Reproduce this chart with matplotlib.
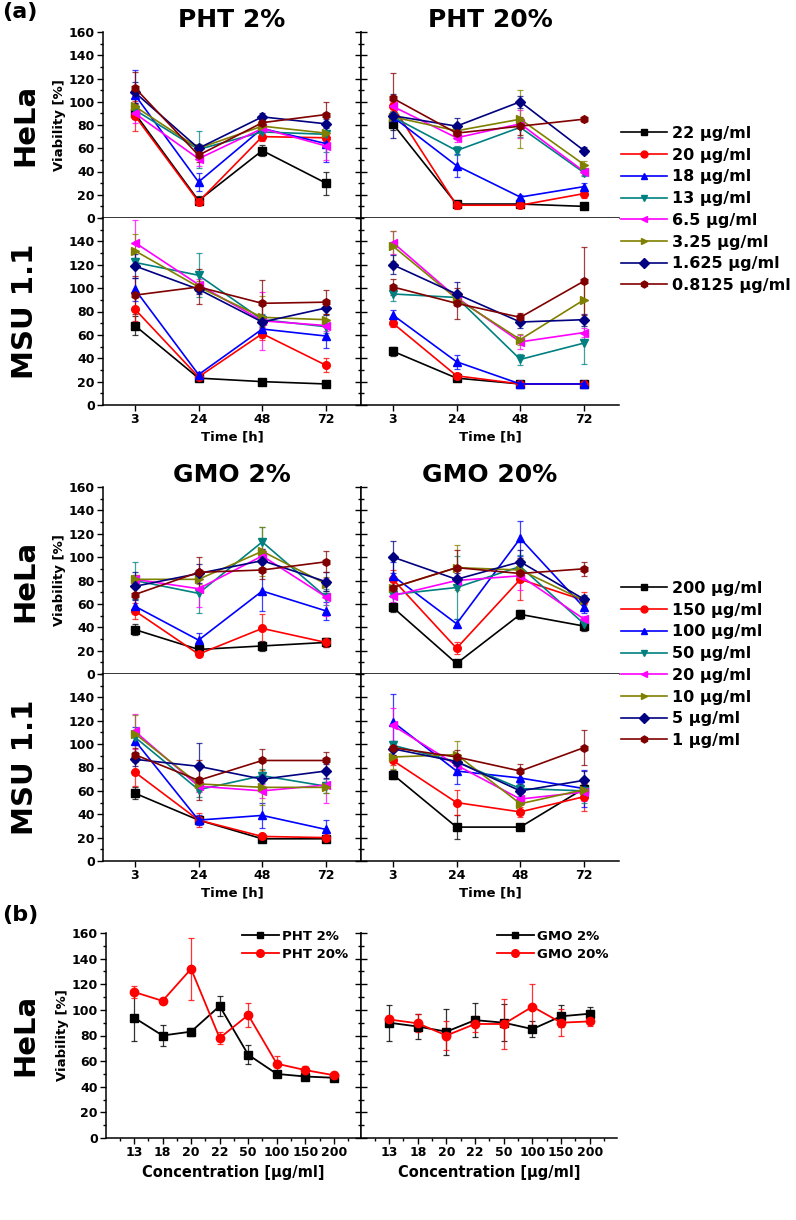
import matplotlib
matplotlib.use('Agg')
import matplotlib.pyplot as plt
from matplotlib.lines import Line2D
from matplotlib.ticker import AutoMinorLocator, MultipleLocator
from matplotlib.colors import to_rgba

plt.rcParams['font.family'] = ['DejaVu Sans']
plt.rcParams['font.weight'] = 'bold'

# ---- data ----
times = ['3', '24', '48', '72']
pht_labels = ['22 µg/ml', '20 µg/ml', '18 µg/ml', '13 µg/ml', '6.5 µg/ml',
              '3.25 µg/ml', '1.625 µg/ml', '0.8125 µg/ml']
gmo_labels = ['200 µg/ml', '150 µg/ml', '100 µg/ml', '50 µg/ml', '20 µg/ml',
              '10 µg/ml', '5 µg/ml', '1 µg/ml']

# PHT 2% HeLa (one row per concentration, columns = time points)
pht2_hela = [[90, 15, 58, 30], [88, 14, 70, 69], [106, 31, 77, 64], [93, 59, 74, 72],
             [90, 51, 77, 62], [96, 60, 79, 73], [108, 60, 87, 81], [112, 54, 82, 89]]
pht2_hela_err = [[4, 4, 5, 10], [13, 2, 4, 4], [21, 8, 3, 16], [6, 16, 3, 15],
                 [8, 6, 4, 12], [8, 4, 5, 6], [9, 3, 3, 4], [14, 6, 5, 11]]
# PHT 20% HeLa
pht20_hela = [[81, 12, 12, 10], [96, 11, 11, 21], [87, 45, 18, 27], [87, 58, 78, 39],
              [96, 69, 81, 40], [87, 75, 85, 46], [88, 79, 100, 58], [103, 73, 79, 85]]
pht20_hela_err = [[5, 3, 2, 1], [5, 3, 2, 4], [4, 10, 2, 3], [4, 4, 8, 3],
                  [4, 4, 12, 3], [5, 3, 25, 3], [19, 7, 5, 3], [22, 5, 8, 2]]
# PHT 2% MSU 1.1
pht2_msu = [[68, 23, 20, 18], [82, 24, 61, 34], [99, 26, 65, 59], [122, 111, 73, 67],
            [139, 103, 72, 68], [132, 101, 75, 73], [119, 99, 71, 83], [94, 101, 87, 88]]
pht2_msu_err = [[8, 1, 1, 1], [10, 2, 5, 6], [10, 2, 5, 10], [4, 19, 5, 5],
                [19, 5, 25, 5], [14, 5, 18, 5], [10, 4, 6, 6], [16, 15, 20, 10]]
# PHT 20% MSU 1.1
pht20_msu = [[46, 23, 18, 18], [70, 25, 18, 18], [77, 37, 18, 18], [95, 92, 39, 53],
             [139, 92, 54, 62], [136, 91, 56, 90], [120, 95, 71, 73], [101, 87, 75, 106]]
pht20_msu_err = [[4, 1, 1, 1], [3, 2, 1, 1], [4, 6, 1, 1], [6, 4, 5, 18],
                 [10, 4, 6, 4], [13, 5, 5, 16], [8, 10, 5, 5], [7, 13, 4, 29]]
# GMO 2% HeLa
gmo2_hela = [[38, 21, 24, 27], [54, 17, 39, 27], [58, 29, 71, 54], [80, 69, 113, 66],
             [81, 73, 101, 66], [81, 81, 105, 77], [75, 86, 97, 79], [68, 87, 89, 96]]
gmo2_hela_err = [[5, 3, 4, 4], [7, 2, 12, 4], [6, 6, 17, 8], [16, 17, 13, 7],
                 [4, 16, 6, 16], [4, 4, 21, 6], [12, 8, 10, 8], [12, 13, 8, 9]]
# GMO 20% HeLa
gmo20_hela = [[57, 9, 51, 41], [81, 22, 81, 63], [84, 43, 116, 57], [68, 74, 92, 43],
              [67, 80, 84, 47], [74, 91, 89, 63], [100, 81, 96, 64], [74, 91, 86, 90]]
gmo20_hela_err = [[4, 2, 4, 4], [8, 5, 18, 7], [12, 4, 15, 5], [8, 27, 10, 3],
                  [5, 4, 12, 3], [6, 19, 10, 4], [14, 5, 10, 4], [8, 15, 6, 6]]
# GMO 2% MSU 1.1
gmo2_msu = [[58, 35, 19, 19], [76, 35, 21, 20], [103, 35, 39, 27], [106, 61, 73, 64],
            [111, 64, 60, 65], [109, 66, 63, 63], [87, 81, 70, 77], [91, 69, 86, 86]]
gmo2_msu_err = [[5, 3, 2, 1], [12, 6, 2, 2], [12, 4, 11, 8], [6, 6, 6, 6],
                [15, 5, 6, 15], [16, 6, 15, 5], [6, 20, 6, 6], [6, 17, 10, 7]]
# GMO 20% MSU 1.1
gmo20_msu = [[74, 29, 29, 62], [86, 50, 42, 55], [119, 77, 71, 62], [99, 85, 62, 60],
             [116, 82, 53, 59], [89, 91, 49, 61], [96, 85, 60, 69], [97, 89, 77, 97]]
gmo20_msu_err = [[4, 10, 2, 4], [4, 11, 4, 12], [24, 11, 4, 16], [4, 4, 6, 10],
                 [15, 5, 4, 8], [10, 12, 5, 8], [5, 6, 6, 8], [6, 6, 6, 15]]

# (b) HeLa vs concentration
conc = ['13', '18', '20', '22', '50', '100', '150', '200']
pht2_b = [94, 80, 83, 103, 65, 50, 48, 47]
pht2_b_err = [18, 8, 3, 8, 7.5, 2, 1.5, 1.5]
pht20_b = [114, 107, 132, 78, 96, 58, 53, 49]
pht20_b_err = [5, 1.5, 24, 4.5, 9.5, 6, 3.5, 1.5]
gmo2_b = [90, 87, 83, 92, 90, 85, 95, 97]
gmo2_b_err = [14, 9.5, 18, 13, 14.5, 6.5, 8.5, 5]
gmo20_b = [92.5, 89.5, 80, 89, 89, 102.5, 90, 91]
gmo20_b_err = [3, 7, 11.5, 6, 19.5, 17.5, 10.5, 3.5]

# ---- styles ----
colors = ['#000000', '#ff0000', '#0000ff', '#008080', '#ff00ff', '#808000', '#000080', '#800000']
markers = ['s', 'o', '^', 'v', '<', '>', 'D', 'h']

W, H = 796, 1220
fig = plt.figure(figsize=(W / 100, H / 100), dpi=100)


def box(x0, x1, y0, y1):
    return fig.add_axes([x0 / W, 1 - y1 / H, (x1 - x0) / W, (y1 - y0) / H])


def draw_series(ax, means, errs):
    x = list(range(len(times)))
    for m, e, c, mk in zip(means, errs, colors, markers):
        ax.errorbar(x, m, yerr=e, color=c, marker=mk, ms=5.5, lw=1.2,
                    ecolor=to_rgba(c, 0.75), elinewidth=0.9, capsize=2, capthick=0.9)


def style_a(ax, col, top):
    ax.set_xlim(-0.5, 3.55)
    ax.set_ylim(0, 160)
    ax.spines['top'].set_visible(False)
    ax.spines['right'].set_visible(col == 0)
    for s in ax.spines.values():
        s.set_linewidth(1.1)
    ax.set_xticks(range(len(times)))
    ax.tick_params(axis='x', direction='out', length=4, width=1, labelsize=9, pad=2)
    if top:
        ax.set_yticks(range(0, 161, 20))
        ax.set_xticklabels([])
    else:
        ax.set_yticks(range(0, 141, 20))
        ax.set_xticklabels(times)
        ax.set_xlabel('Time [h]', fontsize=9.5, fontweight='bold', labelpad=3)
    ax.yaxis.set_minor_locator(MultipleLocator(10))
    if col == 0:
        ax.tick_params(axis='y', which='both', direction='out', left=True, right=False,
                       labelsize=9, pad=2, width=1)
        ax.tick_params(axis='y', which='major', length=4)
        ax.tick_params(axis='y', which='minor', length=2)
        if top:
            ax.set_ylabel('Viability [%]', fontsize=9.5, fontweight='bold', labelpad=2)
    else:
        ax.tick_params(axis='y', which='both', direction='inout', left=True,
                       labelleft=False, width=1)
        ax.tick_params(axis='y', which='major', length=8)
        ax.tick_params(axis='y', which='minor', length=4)


cols = [(103, 361), (361, 619)]
blocks = [
    ((32, 218), (218, 405), [(pht2_hela, pht2_hela_err, pht2_msu, pht2_msu_err),
                             (pht20_hela, pht20_hela_err, pht20_msu, pht20_msu_err)],
     ['PHT 2%', 'PHT 20%'], pht_labels),
    ((487, 674), (674, 861), [(gmo2_hela, gmo2_hela_err, gmo2_msu, gmo2_msu_err),
                              (gmo20_hela, gmo20_hela_err, gmo20_msu, gmo20_msu_err)],
     ['GMO 2%', 'GMO 20%'], gmo_labels),
]

for hela_y, msu_y, sets, titles, labels in blocks:
    for ci, ((x0, x1), (hm, he, mm, me), title) in enumerate(zip(cols, sets, titles)):
        ax_h = box(x0, x1, hela_y[0], hela_y[1])
        draw_series(ax_h, hm, he)
        style_a(ax_h, ci, True)
        ax_h.set_title(title, fontsize=18, fontweight='bold', pad=3)
        ax_m = box(x0, x1, msu_y[0], msu_y[1])
        draw_series(ax_m, mm, me)
        style_a(ax_m, ci, False)
    fig.text(25 / W, 1 - (hela_y[0] + hela_y[1]) / 2 / H, 'HeLa', rotation=90,
             fontsize=21, fontweight='bold', ha='center', va='center')
    fig.text(25 / W, 1 - (msu_y[0] + msu_y[1]) / 2 / H, 'MSU 1.1', rotation=90,
             fontsize=21, fontweight='bold', ha='center', va='center')
    handles = [Line2D([], [], color=c, marker=mk, ms=5, lw=1.2) for c, mk in zip(colors, markers)]
    fig.legend(handles, labels, loc='upper left',
               bbox_to_anchor=(621 / W, 1 - (hela_y[0] + 94) / H),
               frameon=False, fontsize=11.5, handlelength=2.9, handletextpad=0.3,
               labelspacing=0.42, borderpad=0, borderaxespad=0)

fig.text(2 / W, 1 - 12 / H, '(a)', fontsize=16, fontweight='bold', ha='left', va='center')
fig.text(2 / W, 1 - 915 / H, '(b)', fontsize=16, fontweight='bold', ha='left', va='center')

# ---- (b) ----
xb = list(range(len(conc)))
b_sets = [((106, 361), pht2_b, pht2_b_err, pht20_b, pht20_b_err, 'PHT 2%', 'PHT 20%', 242),
          ((361, 617), gmo2_b, gmo2_b_err, gmo20_b, gmo20_b_err, 'GMO 2%', 'GMO 20%', 497)]
for ci, ((x0, x1), m1, e1, m2, e2, l1, l2, lx) in enumerate(b_sets):
    ax = box(x0, x1, 933, 1138)
    ax.errorbar(xb, m1, yerr=e1, color='#000000', marker='s', ms=5.5, lw=1.3,
                ecolor=to_rgba('#000000', 0.8), elinewidth=0.9, capsize=2, capthick=0.9, label=l1)
    ax.errorbar(xb, m2, yerr=e2, color='#ff0000', marker='o', ms=6, lw=1.3,
                ecolor=to_rgba('#ff0000', 0.8), elinewidth=0.9, capsize=2, capthick=0.9, label=l2)
    ax.set_xlim(-0.98, 7.95)
    ax.set_ylim(0, 160)
    ax.spines['top'].set_visible(False)
    ax.spines['right'].set_visible(ci == 0)
    for s in ax.spines.values():
        s.set_linewidth(1.1)
    ax.set_xticks(xb)
    ax.set_xticklabels(conc)
    ax.xaxis.set_minor_locator(AutoMinorLocator(2))
    ax.tick_params(axis='x', which='both', direction='out', width=1, labelsize=9, pad=2)
    ax.tick_params(axis='x', which='major', length=4)
    ax.tick_params(axis='x', which='minor', length=2)
    ax.set_yticks(range(0, 161, 20))
    ax.yaxis.set_minor_locator(MultipleLocator(10))
    ax.set_xlabel('Concentration [µg/ml]', fontsize=10.5, fontweight='bold', labelpad=4)
    if ci == 0:
        ax.tick_params(axis='y', which='both', direction='out', labelsize=9, pad=2, width=1)
        ax.tick_params(axis='y', which='major', length=4)
        ax.tick_params(axis='y', which='minor', length=2)
        ax.set_ylabel('Viability [%]', fontsize=9.5, fontweight='bold', labelpad=2)
    else:
        ax.tick_params(axis='y', which='both', direction='inout', labelleft=False, width=1)
        ax.tick_params(axis='y', which='major', length=8)
        ax.tick_params(axis='y', which='minor', length=4)
    hb = [Line2D([], [], color='#000000', marker='s', ms=5, lw=1.3),
          Line2D([], [], color='#ff0000', marker='o', ms=5.5, lw=1.3)]
    fig.legend(hb, [l1, l2], loc='upper left', bbox_to_anchor=(lx / W, 1 - 930 / H),
               frameon=False, fontsize=9.5, handlelength=2.8, handletextpad=0.2,
               labelspacing=0.35, borderpad=0, borderaxespad=0)

fig.text(25 / W, 1 - 1035 / H, 'HeLa', rotation=90, fontsize=21, fontweight='bold',
         ha='center', va='center')

fig.savefig('out.png', dpi=100)
